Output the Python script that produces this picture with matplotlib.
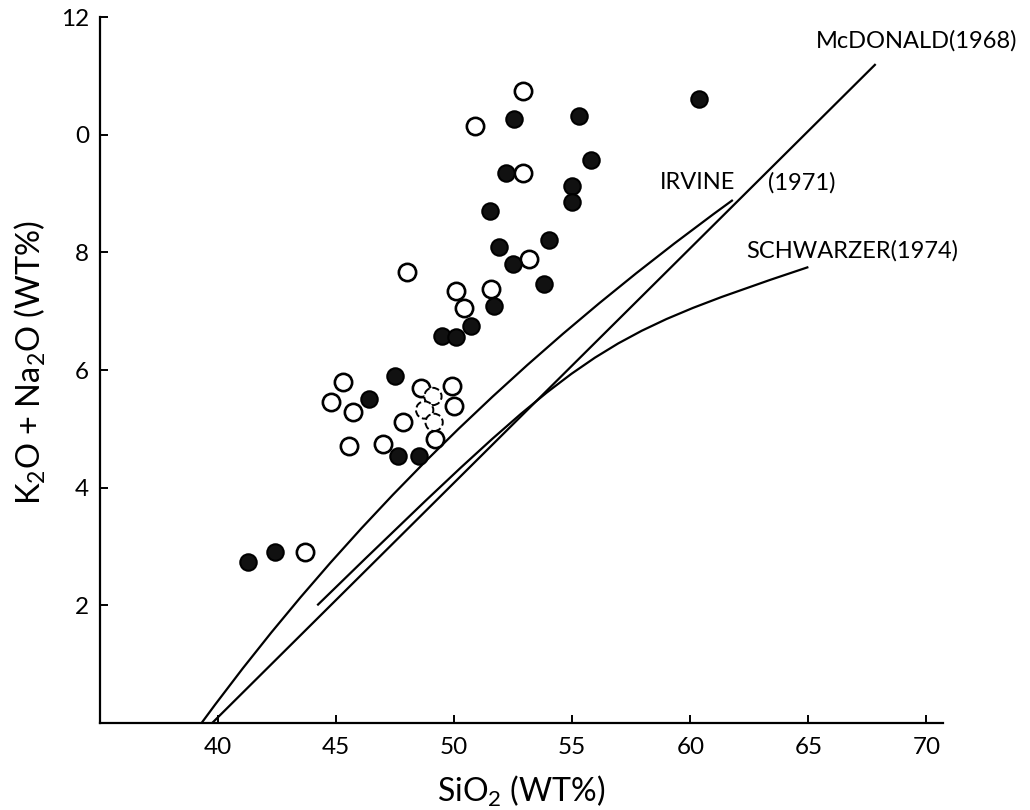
import matplotlib
matplotlib.use("Agg")
import matplotlib.pyplot as plt
from matplotlib.path import Path
from matplotlib.patches import PathPatch

plt.rcParams["font.family"] = ["Lato", "DejaVu Sans"]
plt.rcParams["mathtext.fontset"] = "custom"
plt.rcParams["mathtext.rm"] = "Lato"
plt.rcParams["mathtext.default"] = "regular"

# Analyses plotted as open circles (SiO2, total alkalis)
open_sio2 = [52.9, 50.9, 52.9, 53.15, 48.0, 50.07, 51.55, 50.4, 45.3, 44.8,
             45.7, 48.6, 49.9, 50.0, 47.85, 49.2, 45.55, 47.0, 43.7]
open_alk = [10.75, 10.14, 9.35, 7.89, 7.66, 7.35, 7.38, 7.06, 5.80, 5.45,
            5.28, 5.69, 5.73, 5.39, 5.12, 4.82, 4.70, 4.74, 2.91]

# Faintly printed open circles
faint_sio2 = [49.1, 48.75, 49.15]
faint_alk = [5.55, 5.32, 5.11]

# Analyses plotted as solid circles
solid_sio2 = [52.55, 55.3, 60.35, 55.8, 52.2, 55.0, 55.0, 51.5, 54.0, 51.9,
              52.5, 53.8, 51.7, 50.7, 49.5, 50.07, 47.5, 46.4, 47.6, 48.5,
              41.25, 42.4]
solid_alk = [10.26, 10.32, 10.6, 9.57, 9.35, 9.12, 8.85, 8.70, 8.21, 8.09,
             7.81, 7.47, 7.08, 6.75, 6.58, 6.56, 5.90, 5.50, 4.54, 4.54,
             2.74, 2.91]

# Alkaline / subalkaline dividing lines
# McDonald (1968): straight line
mcdonald_x = [39.75, 67.85]
mcdonald_y = [0.0, 11.2]
# Irvine (1971): quadratic Bezier (start, control, end)
irvine_x = [39.3, 48.4, 61.8]
irvine_y = [0.0, 5.0, 8.89]
# Schwarzer (1974): cubic Bezier (start, two controls, end)
schwarzer_x = [44.2, 55.5, 56.0, 65.0]
schwarzer_y = [2.0, 6.41, 6.54, 7.75]

x_ticks = [40, 45, 50, 55, 60, 65, 70]
y_ticks = [2, 4, 6, 8, 10, 12]
y_tick_labels = ["2", "4", "6", "8", "0", "12"]

fig = plt.figure(figsize=(10.3, 8.1), dpi=100)
ax = fig.add_axes([0.0971, 0.1074, 0.8184, 0.8716])

lw = 1.6
ax.plot(mcdonald_x, mcdonald_y, color="black", lw=lw, solid_capstyle="butt")

irvine_path = Path(list(zip(irvine_x, irvine_y)),
                   [Path.MOVETO, Path.CURVE3, Path.CURVE3])
ax.add_patch(PathPatch(irvine_path, facecolor="none", edgecolor="black", lw=lw))

schwarzer_path = Path(list(zip(schwarzer_x, schwarzer_y)),
                      [Path.MOVETO, Path.CURVE4, Path.CURVE4, Path.CURVE4])
ax.add_patch(PathPatch(schwarzer_path, facecolor="none", edgecolor="black", lw=lw))

ax.scatter(open_sio2, open_alk, s=155, facecolors="white", edgecolors="black",
           linewidths=1.9, zorder=3)
ax.scatter(faint_sio2, faint_alk, s=155, facecolors="white", edgecolors="black",
           linewidths=1.4, linestyles="--", zorder=3)
ax.scatter(solid_sio2, solid_alk, s=140, facecolors="#111111", edgecolors="black",
           linewidths=1.5, zorder=3)

ax.set_xlim(35, 70.7)
ax.set_ylim(0, 12)

for side in ("top", "right"):
    ax.spines[side].set_visible(False)
for side in ("left", "bottom"):
    ax.spines[side].set_linewidth(1.6)

ax.set_xticks(x_ticks)
ax.set_yticks(y_ticks)
ax.set_yticklabels(y_tick_labels)
ax.tick_params(direction="in", length=6, width=1.4, labelsize=17.5)
ax.tick_params(axis="x", pad=10)
ax.tick_params(axis="y", pad=8)

ax.set_xlabel("SiO$_2$ (WT%)", fontsize=23, va="center")
ax.set_ylabel("K$_2$O + Na$_2$O (WT%)", fontsize=23.5, va="center")
ax.xaxis.set_label_coords(0.5, -0.097)
ax.yaxis.set_label_coords(-0.083, 0.51)

label_kw = dict(fontsize=17, va="center", ha="left", clip_on=False)
ax.text(65.3, 11.59, "McDONALD(1968)", **label_kw)
ax.text(58.7, 9.18, "IRVINE", **label_kw)
ax.text(63.3, 9.18, "(1971)", **label_kw)
ax.text(62.36, 8.02, "SCHWARZER(1974)", **label_kw)

fig.savefig("out.png", dpi=100)
